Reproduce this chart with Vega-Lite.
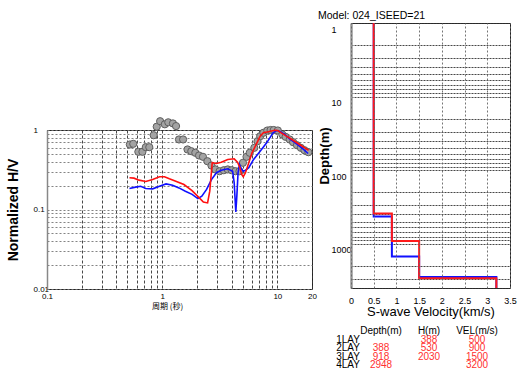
{
  "$schema": "https://vega.github.io/schema/vega-lite/v6.json",
  "background": "white",
  "padding": {"left": 5, "top": 10, "right": 0, "bottom": 0},
  "config": {
    "font": "Liberation Sans",
    "view": {"stroke": "#222", "strokeWidth": 1},
    "axis": {
      "labelFont": "Liberation Sans", "titleFont": "Liberation Sans",
      "labelColor": "#000", "titleColor": "#000",
      "gridColor": "#555", "gridDash": [2, 2], "gridWidth": 1, "gridOpacity": 0.9,
      "ticks": false, "domain": false, "labelFlush": false, "labelOverlap": false
    }
  },
  "datasets": {
    "hv_obs": [
      {"T": 0.524, "V": 0.657}, {"T": 0.561, "V": 0.67}, {"T": 0.621, "V": 0.532}, {"T": 0.674, "V": 0.532},
      {"T": 0.721, "V": 0.608}, {"T": 0.773, "V": 0.608}, {"T": 0.844, "V": 0.86}, {"T": 0.897, "V": 1.10},
      {"T": 0.960, "V": 1.29}, {"T": 1.054, "V": 1.18}, {"T": 1.13, "V": 1.25}, {"T": 1.24, "V": 1.21},
      {"T": 1.32, "V": 1.12}, {"T": 1.40, "V": 0.76}, {"T": 1.52, "V": 0.76}, {"T": 1.66, "V": 0.569},
      {"T": 1.79, "V": 0.541}, {"T": 1.94, "V": 0.517}, {"T": 2.09, "V": 0.478}, {"T": 2.26, "V": 0.46},
      {"T": 2.47, "V": 0.405}, {"T": 2.68, "V": 0.357}, {"T": 2.90, "V": 0.319}, {"T": 3.15, "V": 0.303},
      {"T": 3.43, "V": 0.312}, {"T": 3.71, "V": 0.319}, {"T": 4.01, "V": 0.312}, {"T": 4.33, "V": 0.303},
      {"T": 4.69, "V": 0.303}, {"T": 5.03, "V": 0.387}, {"T": 5.40, "V": 0.46}, {"T": 5.76, "V": 0.517},
      {"T": 6.31, "V": 0.597}, {"T": 6.73, "V": 0.723}, {"T": 7.10, "V": 0.836}, {"T": 7.57, "V": 0.923},
      {"T": 8.18, "V": 0.986}, {"T": 8.74, "V": 1.0}, {"T": 9.31, "V": 1.0}, {"T": 10.1, "V": 0.986},
      {"T": 11.05, "V": 0.878}, {"T": 11.8, "V": 0.82}, {"T": 12.8, "V": 0.76}, {"T": 13.7, "V": 0.703},
      {"T": 14.8, "V": 0.644}, {"T": 16.0, "V": 0.597}, {"T": 17.2, "V": 0.557}, {"T": 18.6, "V": 0.526}
    ],
    "hv_red": [
      {"T": 0.52, "V": 0.251}, {"T": 0.569, "V": 0.248}, {"T": 0.63, "V": 0.234}, {"T": 0.721, "V": 0.225},
      {"T": 0.827, "V": 0.238}, {"T": 0.948, "V": 0.258}, {"T": 1.048, "V": 0.258}, {"T": 1.155, "V": 0.243},
      {"T": 1.313, "V": 0.227}, {"T": 1.546, "V": 0.206}, {"T": 1.817, "V": 0.173}, {"T": 2.07, "V": 0.143},
      {"T": 2.28, "V": 0.124}, {"T": 2.48, "V": 0.121}, {"T": 2.59, "V": 0.170}, {"T": 2.72, "V": 0.387},
      {"T": 2.96, "V": 0.379}, {"T": 3.26, "V": 0.394}, {"T": 3.71, "V": 0.426}, {"T": 4.22, "V": 0.434},
      {"T": 4.51, "V": 0.394}, {"T": 4.74, "V": 0.335}, {"T": 4.90, "V": 0.276}, {"T": 5.06, "V": 0.258},
      {"T": 5.29, "V": 0.290}, {"T": 5.65, "V": 0.387}, {"T": 6.03, "V": 0.517}, {"T": 6.65, "V": 0.690},
      {"T": 7.09, "V": 0.836}, {"T": 7.57, "V": 0.922}, {"T": 8.34, "V": 0.949}, {"T": 9.49, "V": 0.994},
      {"T": 10.1, "V": 0.986}, {"T": 10.8, "V": 0.922}, {"T": 12.0, "V": 0.836}, {"T": 13.7, "V": 0.744},
      {"T": 15.6, "V": 0.657}, {"T": 17.9, "V": 0.580}, {"T": 18.7, "V": 0.557}
    ],
    "hv_blue": [
      {"T": 0.52, "V": 0.184}, {"T": 0.588, "V": 0.191}, {"T": 0.651, "V": 0.196}, {"T": 0.721, "V": 0.184},
      {"T": 0.827, "V": 0.182}, {"T": 0.948, "V": 0.196}, {"T": 1.081, "V": 0.210}, {"T": 1.231, "V": 0.202},
      {"T": 1.40, "V": 0.187}, {"T": 1.59, "V": 0.170}, {"T": 1.82, "V": 0.155}, {"T": 2.04, "V": 0.137},
      {"T": 2.21, "V": 0.147}, {"T": 2.43, "V": 0.179}, {"T": 2.68, "V": 0.238}, {"T": 2.96, "V": 0.290},
      {"T": 3.26, "V": 0.312}, {"T": 3.71, "V": 0.325}, {"T": 4.09, "V": 0.303}, {"T": 4.22, "V": 0.217},
      {"T": 4.36, "V": 0.093}, {"T": 4.45, "V": 0.147}, {"T": 4.56, "V": 0.290}, {"T": 4.69, "V": 0.368},
      {"T": 4.87, "V": 0.325}, {"T": 5.06, "V": 0.303}, {"T": 5.29, "V": 0.312}, {"T": 5.65, "V": 0.335},
      {"T": 6.22, "V": 0.426}, {"T": 7.09, "V": 0.541}, {"T": 8.08, "V": 0.690}, {"T": 9.18, "V": 0.922},
      {"T": 9.81, "V": 0.986}, {"T": 10.47, "V": 0.966}, {"T": 11.6, "V": 0.878}, {"T": 12.8, "V": 0.775},
      {"T": 14.6, "V": 0.676}, {"T": 16.7, "V": 0.580}, {"T": 18.5, "V": 0.506}
    ],
    "vs_red": [
      {"i": 0, "vs": 0.5, "depth": 1}, {"i": 1, "vs": 0.5, "depth": 388}, {"i": 2, "vs": 0.9, "depth": 388},
      {"i": 3, "vs": 0.9, "depth": 918}, {"i": 4, "vs": 1.5, "depth": 918}, {"i": 5, "vs": 1.5, "depth": 2948},
      {"i": 6, "vs": 3.2, "depth": 2948}, {"i": 7, "vs": 3.2, "depth": 4000}
    ],
    "vs_blue": [
      {"i": 0, "vs": 0.5, "depth": 1}, {"i": 1, "vs": 0.5, "depth": 426}, {"i": 2, "vs": 0.9, "depth": 426},
      {"i": 3, "vs": 0.9, "depth": 1493}, {"i": 4, "vs": 1.5, "depth": 1493}, {"i": 5, "vs": 1.5, "depth": 2830},
      {"i": 6, "vs": 3.2, "depth": 2830}, {"i": 7, "vs": 3.2, "depth": 4000}
    ],
    "table": [
      {"row": 0, "col": "depth", "text": "Depth(m)", "kind": "head"},
      {"row": 0, "col": "h", "text": "H(m)", "kind": "head"},
      {"row": 0, "col": "vel", "text": "VEL(m/s)", "kind": "head"},
      {"row": 1, "col": "lay", "text": "1LAY", "kind": "head"},
      {"row": 1, "col": "h", "text": "388", "kind": "val"},
      {"row": 1, "col": "vel", "text": "500", "kind": "val"},
      {"row": 2, "col": "lay", "text": "2LAY", "kind": "head"},
      {"row": 2, "col": "depth", "text": "388", "kind": "val"},
      {"row": 2, "col": "h", "text": "530", "kind": "val"},
      {"row": 2, "col": "vel", "text": "900", "kind": "val"},
      {"row": 3, "col": "lay", "text": "3LAY", "kind": "head"},
      {"row": 3, "col": "depth", "text": "918", "kind": "val"},
      {"row": 3, "col": "h", "text": "2030", "kind": "val"},
      {"row": 3, "col": "vel", "text": "1500", "kind": "val"},
      {"row": 4, "col": "lay", "text": "4LAY", "kind": "head"},
      {"row": 4, "col": "depth", "text": "2948", "kind": "val"},
      {"row": 4, "col": "vel", "text": "3200", "kind": "val"}
    ]
  },
  "spacing": 0,
  "hconcat": [
    {
      "bounds": "flush",
      "spacing": 0,
      "vconcat": [
        {
          "width": 265, "height": 107,
          "data": {"values": []},
          "mark": {"type": "point", "opacity": 0},
          "encoding": {},
          "view": {"stroke": null}
        },
        {
          "width": 265, "height": 159,
          "layer": [
            {
              "data": {"name": "hv_obs"},
              "mark": {"type": "point", "shape": "circle", "filled": true, "size": 52, "fill": "#a3a3a3", "stroke": "#5f5f5f", "strokeWidth": 1, "opacity": 1},
              "encoding": {
                "x": {
                  "field": "T", "type": "quantitative",
                  "scale": {"type": "log", "domain": [0.1, 20], "nice": false},
                  "axis": {
                    "values": [0.1, 0.2, 0.3, 0.4, 0.5, 0.6, 0.7, 0.8, 0.9, 1, 2, 3, 4, 5, 6, 7, 8, 9, 10, 20],
                    "labelExpr": "indexof([0.1, 1, 10, 20], datum.value) >= 0 ? '' + datum.value : ''",
                    "labelFontSize": 8, "labelPadding": 3, "labelBaseline": "top",
                    "title": "周期 (秒)", "titleFont": "Noto Sans CJK JP", "titleFontSize": 8, "titleFontWeight": "normal",
                    "titlePadding": 2, "titleX": 120,
                    "gridColor": "#333", "gridDash": [3, 2]
                  }
                },
                "y": {
                  "field": "V", "type": "quantitative",
                  "scale": {"type": "log", "domain": [0.01, 1], "nice": false},
                  "axis": {
                    "values": [0.01, 0.02, 0.03, 0.04, 0.05, 0.06, 0.07, 0.08, 0.09, 0.1, 0.2, 0.3, 0.4, 0.5, 0.6, 0.7, 0.8, 0.9, 1],
                    "labelExpr": "indexof([0.01, 0.1, 1], datum.value) >= 0 ? '' + datum.value : ''",
                    "labelFontSize": 8, "labelAlign": "left", "labelPadding": 14, "labelBaseline": "middle",
                    "domain": true, "domainColor": "#888", "domainWidth": 1.5,
                    "title": "Normalized H/V", "titleFontSize": 14, "titleFontWeight": "bold", "titlePadding": 13,
                    "gridColor": "#777", "gridDash": [2, 2]
                  }
                }
              }
            },
            {
              "data": {"name": "hv_blue"},
              "mark": {"type": "line", "color": "#1010ff", "strokeWidth": 1.6},
              "encoding": {"x": {"field": "T", "type": "quantitative"}, "y": {"field": "V", "type": "quantitative"}}
            },
            {
              "data": {"name": "hv_red"},
              "mark": {"type": "line", "color": "#ff1010", "strokeWidth": 1.6},
              "encoding": {"x": {"field": "T", "type": "quantitative"}, "y": {"field": "V", "type": "quantitative"}}
            }
          ]
        }
      ]
    },
    {
      "bounds": "flush",
      "spacing": 43,
      "vconcat": [
        {
          "width": 159, "height": 265,
          "title": {"text": "Model: 024_ISEED=21", "anchor": "start", "fontSize": 10.5, "fontWeight": "normal", "font": "Liberation Sans", "offset": -2, "color": "#000"},
          "layer": [
            {
              "data": {"name": "vs_blue"},
              "mark": {"type": "line", "color": "#1010ff", "strokeWidth": 2},
              "encoding": {
                "x": {
                  "field": "vs", "type": "quantitative",
                  "scale": {"domain": [0, 3.5], "nice": false, "zero": false},
                  "axis": {
                    "orient": "bottom", "tickCount": 7, "zindex": 1, "format": "~g",
                    "labelFontSize": 9, "labelPadding": 8, "labelBound": false, "labelOverlap": false, "labelSeparation": 0,
                    "title": "S-wave Velocity(km/s)", "titleFontSize": 13, "titleFontWeight": "normal", "titlePadding": 0,
                    "gridColor": "#666", "gridDash": [2, 2]
                  }
                },
                "y": {
                  "field": "depth", "type": "quantitative",
                  "scale": {"type": "log", "domain": [1, 4000], "reverse": true, "nice": false},
                  "axis": {
                    "values": [1, 2, 3, 4, 5, 6, 7, 8, 9, 10, 20, 30, 40, 50, 60, 70, 80, 90, 100, 200, 300, 400, 500, 600, 700, 800, 900, 1000, 2000, 3000, 4000],
                    "labelExpr": "indexof([1, 10, 100, 1000], datum.value) >= 0 ? '' + datum.value : ''",
                    "labelFontSize": 9, "labelAlign": "left", "labelPadding": 20, "labelOffset": 6, "labelBaseline": "middle",
                    "domain": true, "domainColor": "#999", "domainWidth": 2.5,
                    "title": "Depth(m)", "titleFontSize": 13, "titleFontWeight": "bold", "titlePadding": 0,
                    "gridColor": "#333", "gridDash": [2, 1]
                  }
                },
                "order": {"field": "i", "type": "quantitative"}
              }
            },
            {
              "data": {"name": "vs_red"},
              "mark": {"type": "line", "color": "#ff1a1a", "strokeWidth": 2},
              "encoding": {
                "x": {"field": "vs", "type": "quantitative"},
                "y": {"field": "depth", "type": "quantitative"},
                "order": {"field": "i", "type": "quantitative"}
              }
            }
          ]
        },
        {
          "width": 159, "height": 34,
          "view": {"stroke": null},
          "data": {"name": "table"},
          "encoding": {
            "x": {"field": "col", "type": "nominal", "scale": {"type": "point", "domain": ["lay", "depth", "h", "vel"], "range": [-18, 126], "padding": 0}, "axis": null},
            "y": {"field": "row", "type": "ordinal", "scale": {"type": "point", "domain": [0, 1, 2, 3, 4], "padding": 0}, "axis": null},
            "text": {"field": "text", "type": "nominal"},
            "color": {"field": "kind", "type": "nominal", "scale": {"domain": ["head", "val"], "range": ["#000000", "#ff3030"]}, "legend": null}
          },
          "layer": [
            {
              "transform": [{"filter": "datum.col === 'lay'"}],
              "mark": {"type": "text", "fontSize": 10, "font": "Liberation Sans", "align": "center", "baseline": "middle", "dx": 15}
            },
            {
              "transform": [{"filter": "datum.col !== 'lay'"}],
              "mark": {"type": "text", "fontSize": 10, "font": "Liberation Sans", "align": "center", "baseline": "middle"}
            }
          ]
        }
      ]
    }
  ]
}
